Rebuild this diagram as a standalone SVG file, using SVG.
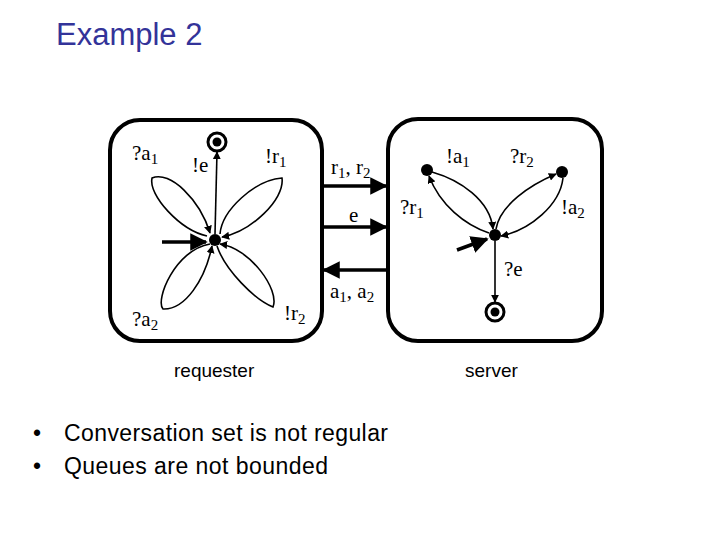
<svg xmlns="http://www.w3.org/2000/svg" width="720" height="540" viewBox="0 0 720 540">
<style>
.t{font-family:"Liberation Serif",serif;font-size:21px;fill:#000}
.s{font-family:"Liberation Serif",serif;font-size:15px}
.l{fill:none;stroke:#000;stroke-width:1.6}
.box{fill:#fff;stroke:#000;stroke-width:4}
.ch{stroke:#000;stroke-width:3.5}
.sa{font-family:"Liberation Sans",Arial,sans-serif;font-size:19px;fill:#000}
.b{font-family:"Liberation Sans",Arial,sans-serif;font-size:23px;fill:#000}
</style>
<defs>
<marker id="a" viewBox="0 0 10 10" refX="9" refY="5" markerWidth="8" markerHeight="8" markerUnits="userSpaceOnUse" orient="auto"><path d="M0,0L10,5L0,10z"/></marker>
<marker id="b" viewBox="0 0 10 10" refX="9" refY="5" markerWidth="5" markerHeight="5" orient="auto"><path d="M0,0L10,5L0,10z"/></marker>
</defs>
<rect width="720" height="540" fill="#fff"/>
<text x="56" y="45" font-family="Liberation Sans,Arial,sans-serif" font-size="31" fill="#333399">Example 2</text>
<g id="requester">
<rect class="box" x="110" y="120" width="212" height="221" rx="30"/>
<circle cx="215" cy="240" r="6"/>
<circle cx="217" cy="142" r="9" fill="#fff" stroke="#000" stroke-width="3"/>
<circle cx="217" cy="142" r="4.5"/>
<path class="l" d="M215,234 L217,152" marker-end="url(#a)"/>
<path class="l" d="M207,236 C180,230 148,195 152,178 C170,170 200,200 210,233" marker-end="url(#a)"/>
<path class="l" d="M220,234 C222,210 255,180 282,178 C285,200 250,232 222,237" marker-end="url(#a)"/>
<path class="l" d="M210,244 C175,250 155,300 163,309 C185,310 205,280 212,246" marker-end="url(#a)"/>
<path class="l" d="M217,246 C225,270 255,300 273,307 C280,290 250,248 220,244" marker-end="url(#a)"/>
<path class="ch" d="M162,242 L206,242" marker-end="url(#b)"/>
<text class="t" x="132" y="160">?a<tspan class="s" dy="4">1</tspan></text>
<text class="t" x="192" y="172">!e</text>
<text class="t" x="265" y="163">!r<tspan class="s" dy="4">1</tspan></text>
<text class="t" x="132" y="326">?a<tspan class="s" dy="4">2</tspan></text>
<text class="t" x="284" y="320">!r<tspan class="s" dy="4">2</tspan></text>
</g>
<g id="server">
<rect class="box" x="388" y="119" width="214" height="222" rx="30"/>
<circle cx="495" cy="235" r="6"/>
<circle cx="427" cy="170" r="6"/>
<circle cx="562" cy="172" r="6"/>
<circle cx="495" cy="312" r="9" fill="#fff" stroke="#000" stroke-width="3"/>
<circle cx="495" cy="312" r="4.5"/>
<path class="l" d="M432,172 C460,180 490,200 493,229" marker-end="url(#a)"/>
<path class="l" d="M489,233 C465,225 440,205 429,176" marker-end="url(#a)"/>
<path class="l" d="M496,229 C500,205 530,185 556,174" marker-end="url(#a)"/>
<path class="l" d="M563,178 C560,205 530,230 501,236" marker-end="url(#a)"/>
<path class="l" d="M495,241 L495,302" marker-end="url(#a)"/>
<path class="ch" d="M457,250 L487,239" marker-end="url(#b)"/>
<text class="t" x="446" y="163">!a<tspan class="s" dy="4">1</tspan></text>
<text class="t" x="510" y="163">?r<tspan class="s" dy="4">2</tspan></text>
<text class="t" x="400" y="214">?r<tspan class="s" dy="4">1</tspan></text>
<text class="t" x="561" y="214">!a<tspan class="s" dy="4">2</tspan></text>
<text class="t" x="504" y="276">?e</text>
</g>
<g id="channels">
<path class="ch" d="M322,186 L386,186" marker-end="url(#b)"/>
<path class="ch" d="M322,227 L386,227" marker-end="url(#b)"/>
<path class="ch" d="M388,270 L324,270" marker-end="url(#b)"/>
<text class="t" x="331" y="174">r<tspan class="s" dy="4">1</tspan><tspan dy="-4">, r</tspan><tspan class="s" dy="4">2</tspan></text>
<text class="t" x="349" y="222">e</text>
<text class="t" x="330" y="298">a<tspan class="s" dy="4">1</tspan><tspan dy="-4">, a</tspan><tspan class="s" dy="4">2</tspan></text>
</g>
<text class="sa" x="174" y="377" font-size="20">requester</text>
<text class="sa" x="465" y="377" font-size="20">server</text>
<text class="b" x="33" y="441">•</text>
<text class="b" x="64" y="441" textLength="324">Conversation set is not regular</text>
<text class="b" x="33" y="474">•</text>
<text class="b" x="64" y="474" textLength="264">Queues are not bounded</text>
</svg>
